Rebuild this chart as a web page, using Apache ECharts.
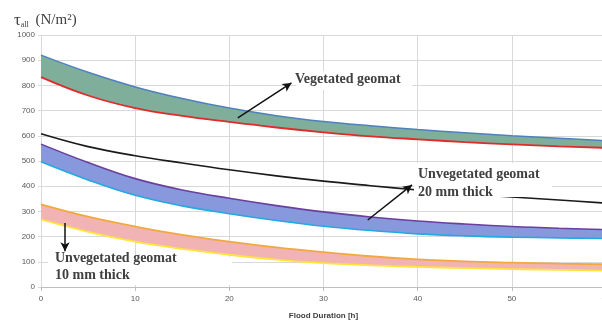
<!DOCTYPE html>
<html>
<head>
<meta charset="utf-8">
<script src="https://cdn.jsdelivr.net/npm/echarts@6/dist/echarts.min.js"></script>
<style>
  html, body { margin: 0; padding: 0; background: #fff; }
  #chart { width: 602px; height: 320px; }
</style>
</head>
<body>
<div id="chart"></div>
<script>
// flood duration (h)
const hours = ['0', '5', '10', '15', '20', '25', '30', '35', '40', '45', '50', '55', '60'];

// vegetated geomat band
const vegUpper = [920, 852, 794, 748, 710, 680, 657, 640, 625, 612, 600, 590, 581];
const vegLower = [833, 760, 710, 679, 655, 633, 614, 598, 586, 575, 566, 558, 552];

// single black curve
const blackLine = [608, 557, 521, 492, 465, 441, 420, 402, 385, 370, 357, 345, 333];

// unvegetated 20 mm band
const u20Upper = [567, 494, 430, 385, 352, 323, 298, 278, 262, 250, 240, 233, 228];
const u20Lower = [497, 425, 364, 322, 291, 264, 241, 224, 211, 203, 198, 195, 192];

// unvegetated 10 mm band
const u10Upper = [328, 279, 240, 207, 180, 157, 138, 122, 110, 102, 97, 93, 90];
const u10Lower = [268, 219, 180, 151, 128, 109, 95, 86, 80, 75, 71, 68, 65];

// arrow annotations [from, to] as [hours, N/m²]
const arrows = [
  [[20.9, 671], [26.6, 810]],
  [[34.7, 266], [39.4, 405]],
  [[2.55, 254], [2.55, 142]]
];

const diff = (hi, lo) => hi.map((v, i) => v - lo[i]);

function line(name, ys, color, width) {
  return {
    name, type: 'line', data: ys, smooth: 0.4, showSymbol: false,
    lineStyle: { color, width }, z: 4, silent: true
  };
}
function band(key, hi, lo, fill) {
  return [
    { type: 'line', stack: key, data: lo, smooth: 0.4, showSymbol: false,
      lineStyle: { width: 0, opacity: 0 }, silent: true },
    { type: 'line', stack: key, data: diff(hi, lo), smooth: 0.4, showSymbol: false,
      lineStyle: { width: 0, opacity: 0 }, areaStyle: { color: fill, opacity: 1 }, silent: true }
  ];
}

const chart = echarts.init(document.getElementById('chart'));
const labelFont = 'bold 14px "Liberation Serif"';

chart.setOption({
  animation: false,
  grid: { left: 41, right: -4, top: 35, bottom: 33, outerBoundsMode: 'none', containLabel: false },
  xAxis: [{
    type: 'category', data: hours, boundaryGap: false,
    name: 'Flood Duration [h]', nameLocation: 'middle', nameGap: 25,
    nameTextStyle: { fontSize: 8, fontWeight: 'bold', color: '#404040', fontFamily: 'Liberation Sans' },
    axisLine: { lineStyle: { color: '#bfbfbf' } },
    axisTick: { show: true, interval: 1, length: 4, lineStyle: { color: '#bfbfbf' } },
    axisLabel: { interval: 1, fontSize: 8, color: '#595959', margin: 8, fontFamily: 'Liberation Sans' },
    splitLine: { show: true, interval: 1, lineStyle: { color: '#d9d9d9' } }
  }, {
    // hidden hour scale for the arrow annotations
    type: 'value', min: 0, max: 60, show: false
  }],
  yAxis: {
    type: 'value', min: 0, max: 1000, interval: 100,
    axisLine: { show: true, lineStyle: { color: '#d9d9d9' } },
    axisTick: { show: true, length: 3, lineStyle: { color: '#d9d9d9' } },
    axisLabel: { fontSize: 8, color: '#595959', margin: 6, fontFamily: 'Liberation Sans', formatter: v => String(v) },
    splitLine: { show: true, lineStyle: { color: '#d9d9d9' } }
  },
  series: [
    ...band('veg', vegUpper, vegLower, '#7fae9b'),
    ...band('u20', u20Upper, u20Lower, '#8799dc'),
    ...band('u10', u10Upper, u10Lower, '#f2b3b5'),
    line('vegUpper', vegUpper, '#4f81bd', 1.5),
    line('vegLower', vegLower, '#e02b2b', 1.8),
    line('black', blackLine, '#1a1a1a', 1.6),
    line('u20Upper', u20Upper, '#6a3f9e', 1.6),
    line('u20Lower', u20Lower, '#22a9e1', 1.6),
    line('u10Upper', u10Upper, '#f2a93b', 1.8),
    line('u10Lower', u10Lower, '#ffe23f', 1.8),
    {
      type: 'line', xAxisIndex: 1, data: [], silent: true, z: 10,
      markLine: {
        silent: true, symbol: ['none', 'arrow'], symbolSize: [7, 9],
        label: { show: false },
        lineStyle: { color: '#111', width: 1.5, type: 'solid' },
        data: arrows.map(a => [{ coord: a[0] }, { coord: a[1] }])
      }
    }
  ],
  graphic: [
    { type: 'rect', z: 50, shape: { x: 296, y: 71, width: 116, height: 19 }, style: { fill: '#fff' } },
    { type: 'rect', z: 50, shape: { x: 414, y: 163, width: 138, height: 34 }, style: { fill: '#fff' } },
    { type: 'rect', z: 50, shape: { x: 48, y: 257, width: 184, height: 28 }, style: { fill: '#fff' } },
    { type: 'text', z: 51, x: 295, y: 72, style: { text: 'Vegetated geomat', font: labelFont, fill: '#404040', verticalAlign: 'top' } },
    { type: 'text', z: 51, x: 418, y: 165, style: { text: 'Unvegetated geomat\n20 mm thick', font: labelFont, lineHeight: 18, fill: '#404040', verticalAlign: 'top' } },
    { type: 'text', z: 51, x: 55, y: 250, style: { text: 'Unvegetated geomat\n10 mm thick', font: labelFont, lineHeight: 17, fill: '#404040', verticalAlign: 'top' } },
    {
      type: 'text', z: 51, x: 14, y: 12,
      style: {
        text: '{t|τ}{s|all}  {u|(N/m²)}',
        fill: '#404040', verticalAlign: 'top',
        rich: {
          t: { fontSize: 17, fontFamily: 'Liberation Serif', fill: '#404040' },
          s: { fontSize: 8, fontFamily: 'Liberation Serif', fill: '#404040', padding: [8, 0, 0, 0] },
          u: { fontSize: 15, fontFamily: 'Liberation Serif', fill: '#404040' }
        }
      }
    }
  ]
});
</script>
</body>
</html>
